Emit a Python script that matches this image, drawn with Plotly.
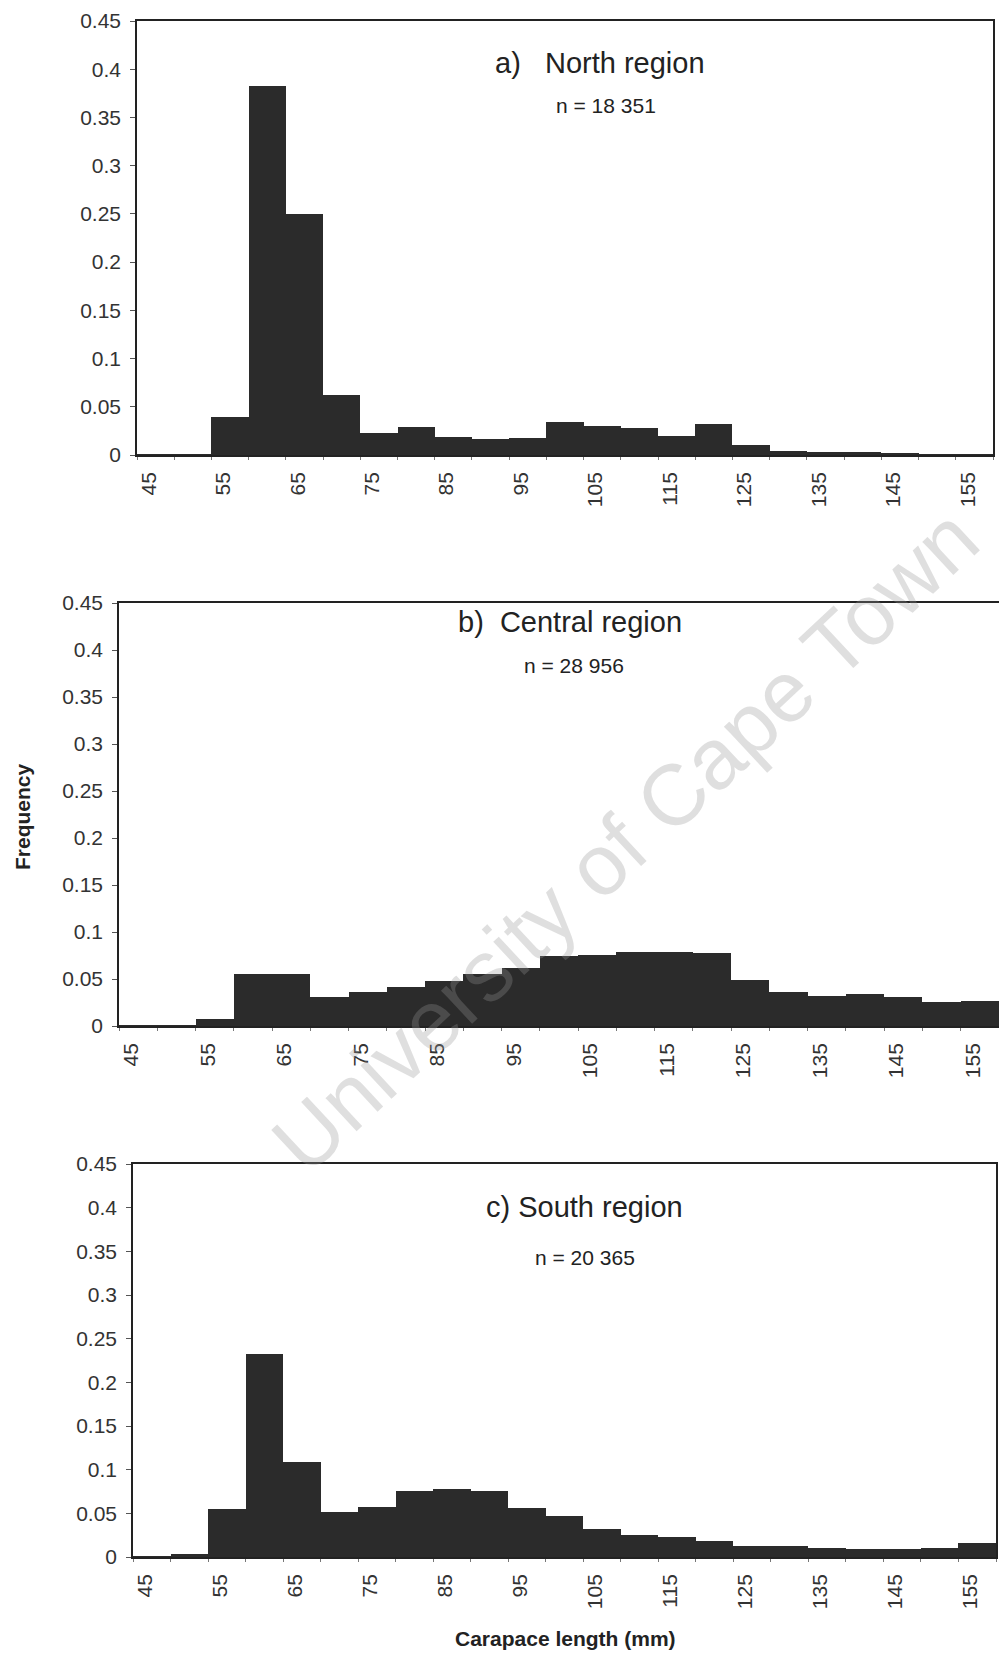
import plotly.graph_objects as go

# Carapace length bins (mm, lower bound of 5-mm classes)
lengths = [45, 50, 55, 60, 65, 70, 75, 80, 85, 90, 95, 100, 105, 110,
           115, 120, 125, 130, 135, 140, 145, 150, 155]

north = [0.0005, 0.0005, 0.039, 0.383, 0.250, 0.062, 0.023, 0.029, 0.019, 0.017,
         0.018, 0.0345, 0.030, 0.028, 0.0197, 0.0325, 0.010, 0.0045, 0.003, 0.003,
         0.002, 0.001, 0.0005]
central = [0.0005, 0.0005, 0.0075, 0.0555, 0.0555, 0.031, 0.0367, 0.042, 0.048, 0.0557,
           0.0618, 0.0743, 0.076, 0.0786, 0.0786, 0.078, 0.049, 0.0367, 0.032, 0.0345,
           0.031, 0.0253, 0.027]
south = [0.0005, 0.004, 0.055, 0.233, 0.109, 0.0516, 0.0578, 0.0757, 0.0776, 0.0755,
         0.0562, 0.047, 0.032, 0.0249, 0.0226, 0.0188, 0.013, 0.0126, 0.0107, 0.0092,
         0.009, 0.0103, 0.016]

x_tick_labels = [45, 55, 65, 75, 85, 95, 105, 115, 125, 135, 145, 155]
y_tick_vals = [0, 0.05, 0.1, 0.15, 0.2, 0.25, 0.3, 0.35, 0.4, 0.45]
y_tick_text = ["0", "0.05", "0.1", "0.15", "0.2", "0.25", "0.3", "0.35", "0.4", "0.45"]

panel_titles = ["a)\u00a0\u00a0 North region", "b)\u00a0\u00a0Central region", "c) South region"]
panel_n = ["n = 18 351", "n = 28 956", "n = 20 365"]

W, H = 999, 1655
FONT = "Liberation Sans, Arial, Helvetica, sans-serif"
BAR = "#2b2b2b"
INK = "#222222"
LABEL_SHIFT = -0.9  # visual offset of rotated category labels (mm)

# panel geometry in pixels: (left, right, top, bottom)
panels = [
    (137, 993, 21, 455),
    (119, 999, 603, 1026),
    (133, 996, 1164, 1557),
]
title_pos = [(600, 63), (570, 622), (584, 1207)]
n_pos = [(606, 106), (574, 665), (585, 1257)]

fig = go.Figure()
series = [north, central, south]
for i, vals in enumerate(series):
    ax = "" if i == 0 else str(i + 1)
    fig.add_trace(go.Bar(
        x=lengths, y=vals, width=5,
        marker=dict(color=BAR, line=dict(width=0)),
        xaxis="x" + ax, yaxis="y" + ax, showlegend=False,
    ))
    L, R, T, B = panels[i]
    xa = dict(
        domain=[L / W, R / W], range=[42.5, 157.5], anchor="y" + ax,
        automargin=False,
        showline=True, mirror=True, linecolor=INK, linewidth=1.5,
        showgrid=False, zeroline=False,
        tickmode="array", tickvals=[v + LABEL_SHIFT for v in x_tick_labels],
        ticktext=[str(v) for v in x_tick_labels],
        ticks="", tickangle=-90, ticklabelstandoff=7,
        tickfont=dict(family=FONT, size=21, color="#333333"),
        minor=dict(ticks="outside", tick0=42.5, dtick=5, ticklen=3,
                   tickwidth=1, tickcolor="#777777", showgrid=False),
    )
    ya = dict(
        domain=[1 - B / H, 1 - T / H], range=[0, 0.45], anchor="x" + ax,
        automargin=False,
        showline=True, mirror=True, linecolor=INK, linewidth=1.5,
        showgrid=False, zeroline=False,
        tickmode="array", tickvals=y_tick_vals, ticktext=y_tick_text,
        ticks="outside", ticklen=5, tickwidth=1, tickcolor="#555555",
        ticklabelstandoff=5,
        tickfont=dict(family=FONT, size=21, color="#333333"),
    )
    fig.update_layout({"xaxis" + ax: xa, "yaxis" + ax: ya})

annotations = []
for i in range(3):
    tx, ty = title_pos[i]
    annotations.append(dict(text=panel_titles[i], x=tx / W, y=1 - ty / H,
                            xref="paper", yref="paper", showarrow=False,
                            xanchor="center", yanchor="middle",
                            font=dict(family=FONT, size=29, color="#222222")))
    nx, ny = n_pos[i]
    annotations.append(dict(text=panel_n[i], x=nx / W, y=1 - ny / H,
                            xref="paper", yref="paper", showarrow=False,
                            xanchor="center", yanchor="middle",
                            font=dict(family=FONT, size=21, color="#222222")))

annotations.append(dict(text="<b>Frequency</b>", x=22 / W, y=1 - 817 / H,
                        xref="paper", yref="paper", showarrow=False, textangle=-90,
                        xanchor="center", yanchor="middle",
                        font=dict(family=FONT, size=21, color="#222222")))
annotations.append(dict(text="<b>Carapace length (mm)</b>", x=565 / W, y=1 - 1638 / H,
                        xref="paper", yref="paper", showarrow=False,
                        xanchor="center", yanchor="middle",
                        font=dict(family=FONT, size=21, color="#222222")))
# watermark
annotations.append(dict(text="University of Cape Town", x=625 / W, y=1 - 840 / H,
                        xref="paper", yref="paper", showarrow=False, textangle=-43,
                        xanchor="center", yanchor="middle",
                        font=dict(family=FONT, size=86, color="rgba(150,150,150,0.3)")))

fig.update_layout(
    width=W, height=H, margin=dict(l=0, r=0, t=0, b=0, autoexpand=False),
    paper_bgcolor="white", plot_bgcolor="white",
    bargap=0, annotations=annotations,
)

fig.write_html("out.html")
